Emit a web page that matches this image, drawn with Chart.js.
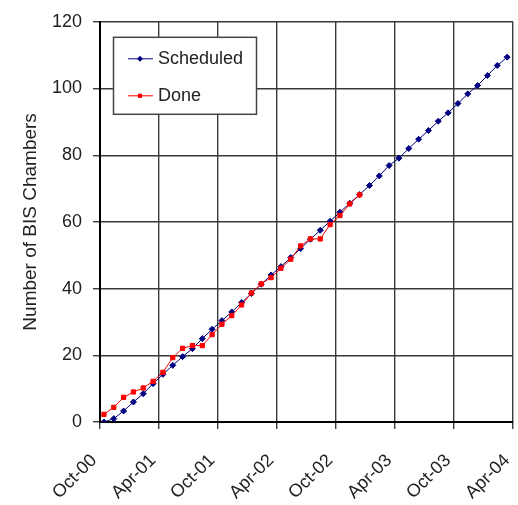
<!DOCTYPE html>
<html>
<head>
<meta charset="utf-8">
<script src="https://cdn.jsdelivr.net/npm/chart.js@4.4.1/dist/chart.umd.min.js"></script>
<style>
  html, body { margin: 0; padding: 0; background: #fff; }
  canvas { display: block; }
</style>
</head>
<body>
<canvas id="chambersChart" width="518" height="505"></canvas>
<script>
// tick labels every 6 months, starting Oct-00
const tickLabels = ["Oct-00", "Apr-01", "Oct-01", "Apr-02", "Oct-02", "Apr-03", "Oct-03", "Apr-04"];

// one value per month from Oct-00
const scheduled = [0, 1, 3.3, 6, 8.5, 11.5, 14.3, 17, 19.6, 22, 25, 27.8, 30.4, 33, 35.8, 38.5,
  41.3, 44.1, 46.6, 49.3, 52, 54.8, 57.5, 60.2, 62.9, 65.6, 68.2, 70.9, 73.8, 76.9, 79.1, 82,
  84.8, 87.4, 90.2, 92.7, 95.5, 98.4, 100.9, 103.9, 106.9, 109.4];
const done = [2.3, 4.4, 7.4, 9, 10.2, 12.2, 14.9, 19.3, 22.1, 22.9, 22.9, 26.2, 29.3, 31.9, 35.1,
  38.7, 41.4, 43.3, 46.1, 48.8, 52.8, 54.9, 54.9, 59.2, 61.9, 65.4, 68.1];

// points are dated mid-month
const dayOfMonth = 0.4;
const toPoints = arr => arr.map((v, i) => ({ x: i + dayOfMonth, y: v }));

const font = { family: "'Liberation Sans', Arial, sans-serif", size: 18 };
const gridColor = "#3a3a3a";

// legend drawn inside the plot, as in the original
const boxLegend = {
  id: "boxLegend",
  afterDraw(chart) {
    const { ctx, chartArea } = chart;
    const x = chartArea.left + 13, y = chartArea.top + 15;
    ctx.save();
    ctx.fillStyle = "#fff";
    ctx.fillRect(x, y, 143, 77);
    ctx.strokeStyle = "#444";
    ctx.lineWidth = 1.5;
    ctx.strokeRect(x + 0.5, y + 0.5, 143, 77);
    chart.data.datasets.forEach((ds, i) => {
      const cy = y + 22 + i * 37;
      ctx.strokeStyle = ds.borderColor;
      ctx.lineWidth = 1;
      ctx.beginPath();
      ctx.moveTo(x + 15, cy);
      ctx.lineTo(x + 40, cy);
      ctx.stroke();
      ctx.fillStyle = ds.pointBackgroundColor;
      ctx.strokeStyle = ds.pointBorderColor;
      Chart.helpers.drawPoint(ctx, { pointStyle: ds.pointStyle, radius: ds.pointRadius, borderWidth: 0 }, x + 27, cy);
      ctx.fillStyle = "#222";
      ctx.font = font.size + "px " + font.family;
      ctx.textBaseline = "middle";
      ctx.fillText(ds.label, x + 45, cy);
    });
    ctx.restore();
  }
};

new Chart(document.getElementById("chambersChart"), {
  type: "line",
  data: {
    datasets: [
      {
        label: "Scheduled",
        data: toPoints(scheduled),
        borderColor: "#000080",
        borderWidth: 1,
        pointStyle: "rectRot",
        pointRadius: 3,
        pointBackgroundColor: "#000080",
        pointBorderColor: "#000080",
        order: 1
      },
      {
        label: "Done",
        data: toPoints(done),
        borderColor: "#ff0000",
        borderWidth: 1,
        pointStyle: "rect",
        pointRadius: 3,
        pointBackgroundColor: "#ff0000",
        pointBorderColor: "#ff0000",
        order: 0
      }
    ]
  },
  options: {
    responsive: false,
    animation: false,
    layout: { padding: { top: 18, right: 1, left: 0, bottom: 0 } },
    plugins: {
      legend: { display: false },
      tooltip: { enabled: false }
    },
    scales: {
      x: {
        type: "linear",
        min: 0,
        max: 42,
        grid: { color: gridColor, lineWidth: 1.4, tickLength: 7 },
        border: { color: "#000", width: 2 },
        ticks: {
          stepSize: 6,
          minRotation: 45,
          maxRotation: 45,
          padding: 21,
          labelOffset: -6,
          color: "#222",
          font: font,
          callback: v => tickLabels[v / 6]
        },
        afterFit(scale) {
          scale.height = 83;
          scale.paddingLeft = 0;
          scale.paddingRight = 0;
        }
      },
      y: {
        min: 0,
        max: 120,
        grid: { color: gridColor, lineWidth: 1.4, tickLength: 7 },
        border: { color: "#000", width: 2 },
        ticks: { stepSize: 20, padding: 11, color: "#222", font: font },
        title: {
          display: true,
          text: "Number of BIS Chambers",
          color: "#222",
          font: { family: font.family, size: 19 },
          padding: { top: 19, bottom: 0 }
        },
        afterFit(scale) {
          scale.width = 100;
        }
      }
    }
  },
  plugins: [boxLegend]
});
</script>
</body>
</html>
